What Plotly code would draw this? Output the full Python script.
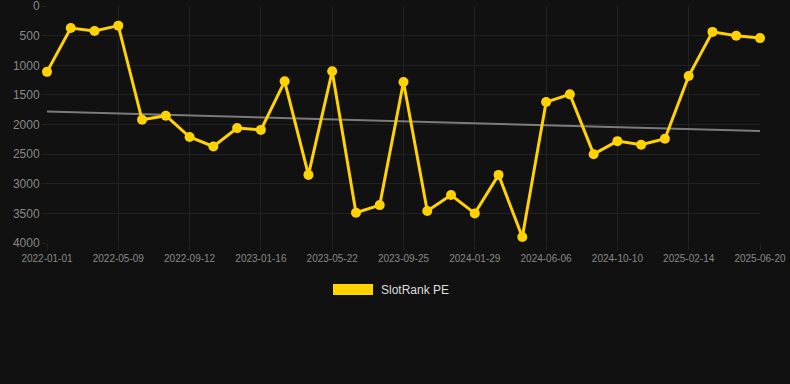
import plotly.graph_objects as go

dates = ["2022-01-01", "2022-02-12", "2022-03-26", "2022-05-09", "2022-06-20", "2022-08-01",
         "2022-09-12", "2022-10-24", "2022-12-05", "2023-01-16", "2023-02-27", "2023-04-10",
         "2023-05-22", "2023-07-03", "2023-08-14", "2023-09-25", "2023-11-06", "2023-12-18",
         "2024-01-29", "2024-03-11", "2024-04-22", "2024-06-06", "2024-07-18", "2024-08-29",
         "2024-10-10", "2024-11-21", "2025-01-02", "2025-02-14", "2025-03-28", "2025-05-09",
         "2025-06-20"]
rank = [1110, 370, 420, 330, 1920, 1850, 2210, 2370, 2060, 2090, 1270, 2850, 1100, 3490, 3360,
        1280, 3460, 3190, 3500, 2850, 3900, 1620, 1490, 2500, 2280, 2340, 2240, 1180, 435, 500, 540]
trend_x = [dates[0], dates[-1]]
trend_y = [1780, 2110]
tick_labels = dates[::3]
y_ticks = [0, 500, 1000, 1500, 2000, 2500, 3000, 3500, 4000]

GOLD = "#FFD200"
BG = "#111111"

fig = go.Figure()
fig.add_trace(go.Scatter(x=trend_x, y=trend_y, mode="lines",
                         line=dict(color="rgba(150,150,150,0.8)", width=2),
                         hoverinfo="skip", showlegend=False))
fig.add_trace(go.Scatter(x=dates, y=rank, mode="lines+markers", name="SlotRank PE",
                         line=dict(color=GOLD, width=3),
                         marker=dict(color=GOLD, size=10),
                         cliponaxis=False, showlegend=False))

fig.update_layout(
    width=790, height=384,
    paper_bgcolor=BG, plot_bgcolor=BG,
    margin=dict(l=47, r=30, t=6, b=141),
    font=dict(family="Liberation Sans, Arial, sans-serif", color="#888888"),
    xaxis=dict(type="category", categoryorder="array", categoryarray=dates,
               range=[0, len(dates) - 1], automargin=False,
               tickmode="array", tickvals=tick_labels, ticktext=tick_labels,
               tickfont=dict(size=10, color="#888888"),
               showgrid=True, gridcolor="#222222", gridwidth=1,
               zeroline=False, showline=False, ticklabeloverflow="allow",
               ticks="outside", ticklen=6, tickcolor="#222222"),
    yaxis=dict(range=[4000, -2], tickmode="array", tickvals=y_ticks, automargin=False,
               tickfont=dict(size=12, color="#888888"),
               showgrid=True, gridcolor="#222222", gridwidth=1,
               zeroline=False, showline=False, ticklabeloverflow="allow",
               ticks="outside", ticklen=4, tickcolor="#222222"),
    showlegend=False,
)

fig.add_shape(type="rect", xref="paper", yref="paper",
              x0=(333 - 47) / 713, x1=(373 - 47) / 713,
              y0=(237 - 289) / 237, y1=(237 - 278) / 237,
              fillcolor=GOLD, line=dict(width=0))
fig.add_annotation(text="SlotRank PE", xref="paper", yref="paper",
                   x=(379 - 47) / 713, y=(237 - 284) / 237,
                   xanchor="left", yanchor="middle", showarrow=False,
                   font=dict(size=12, color="#dddddd"))

fig.write_html("out.html", config={"displayModeBar": False},
               post_script="document.body.style.margin='0';document.body.style.background='#111111';")
